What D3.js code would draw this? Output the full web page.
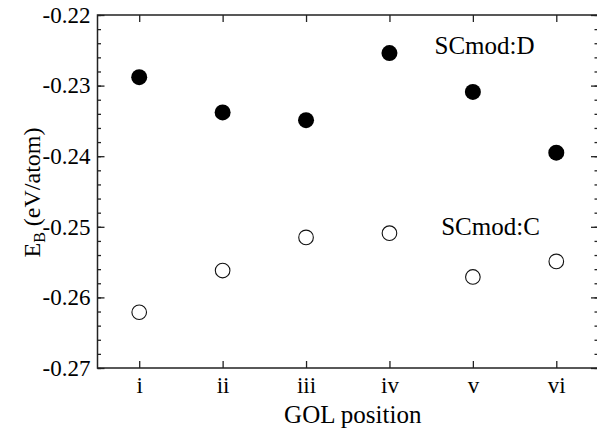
<!DOCTYPE html>
<html>
<head>
<meta charset="utf-8">
<script src="https://cdn.jsdelivr.net/npm/d3@7"></script>
<style>
  body { margin: 0; background: #fff; }
  svg { display: block; }
  svg text { white-space: pre; }
</style>
</head>
<body>
<svg class="chart"></svg>
<script>
// GOL positions and binding energies (eV/atom)
const positions = ["i", "ii", "iii", "iv", "v", "vi"];
const scmodD = [-0.2288, -0.2338, -0.2349, -0.2254, -0.2309, -0.2395];
const scmodC = [-0.2621, -0.2562, -0.2515, -0.2509, -0.2571, -0.2549];
const yTicks = [-0.27, -0.26, -0.25, -0.24, -0.23, -0.22];

const FONT = "Liberation Serif";
const W = 597, H = 428;
const margin = { top: 15, right: -1, bottom: 60, left: 97.5 },
      width = W - margin.left - margin.right,
      height = H - margin.top - margin.bottom;

const svg = d3.select(".chart")
    .attr("width", W)
    .attr("height", H)
    .attr("font-family", FONT)
    .append("g")
    .attr("transform", `translate(${margin.left}, ${margin.top})`);

const x = d3.scaleLinear()
    .domain([0.5, positions.length + 0.5])
    .range([0, width]);

const y = d3.scaleLinear()
    .domain([-0.27, -0.22])
    .range([height, 0]);

const minor = d3.range(-0.27, -0.2199, 0.002);
const idx = positions.map((d, i) => i + 1);
const fmt = d => d.toFixed(2);  // plain hyphen minus, as in the original

function styleAxis(g) {
    g.attr("font-family", FONT);
    g.select(".domain").remove();
    g.selectAll("line").attr("stroke", "#222").attr("stroke-width", 1.3);
    g.selectAll("text").attr("fill", "#000").attr("font-size", 23).attr("font-family", FONT);
}

// minor y ticks (left and right)
svg.append("g").call(d3.axisLeft(y).tickValues(minor).tickSize(-3.5).tickFormat(""))
    .call(styleAxis);
svg.append("g").attr("transform", `translate(${width}, 0)`)
    .call(d3.axisRight(y).tickValues(minor).tickSize(-3.5).tickFormat(""))
    .call(styleAxis);

// major y ticks
svg.append("g")
    .call(d3.axisLeft(y).tickValues(yTicks).tickSize(-7).tickPadding(7).tickFormat(fmt))
    .call(styleAxis);
svg.append("g").attr("transform", `translate(${width}, 0)`)
    .call(d3.axisRight(y).tickValues(yTicks).tickSize(-7).tickFormat(""))
    .call(styleAxis);

// x ticks bottom and top
svg.append("g").attr("transform", `translate(0, ${height})`)
    .call(d3.axisBottom(x).tickValues(idx).tickSize(-7).tickPadding(9).tickFormat(d => positions[d - 1]))
    .call(styleAxis);
svg.append("g")
    .call(d3.axisTop(x).tickValues(idx).tickSize(-7).tickFormat(""))
    .call(styleAxis);

// frame
svg.append("rect")
    .attr("width", width)
    .attr("height", height)
    .attr("fill", "none")
    .attr("stroke", "#222")
    .attr("stroke-width", 1.5);

// SCmod:D (filled)
svg.selectAll(".dotD")
    .data(scmodD)
    .enter().append("circle")
    .attr("class", "dotD")
    .attr("cx", (d, i) => x(i + 1))
    .attr("cy", d => y(d))
    .attr("r", 8)
    .attr("fill", "#000");

// SCmod:C (open)
svg.selectAll(".dotC")
    .data(scmodC)
    .enter().append("circle")
    .attr("class", "dotC")
    .attr("cx", (d, i) => x(i + 1))
    .attr("cy", d => y(d))
    .attr("r", 7.3)
    .attr("fill", "#fff")
    .attr("stroke", "#111")
    .attr("stroke-width", 1.1);

// series labels
svg.append("text")
    .attr("x", x(4.54))
    .attr("y", y(-0.2255))
    .attr("font-size", 25)
    .text("SCmod:D");
svg.append("text")
    .attr("x", x(4.62))
    .attr("y", y(-0.2512))
    .attr("font-size", 25)
    .text("SCmod:C");

// axis titles
svg.append("text")
    .attr("x", width / 2 + 5)
    .attr("y", height + 55)
    .attr("text-anchor", "middle")
    .attr("font-size", 25)
    .text("GOL position");

const yt = svg.append("text")
    .attr("transform", `translate(${-58}, ${height / 2 + 1}) rotate(-90)`)
    .attr("text-anchor", "middle")
    .attr("font-size", 24);
yt.append("tspan").text("E");
yt.append("tspan").attr("font-size", 16).attr("dy", 5).text("B");
yt.append("tspan").attr("dy", -5).text(" (eV/atom)");
</script>
</body>
</html>
